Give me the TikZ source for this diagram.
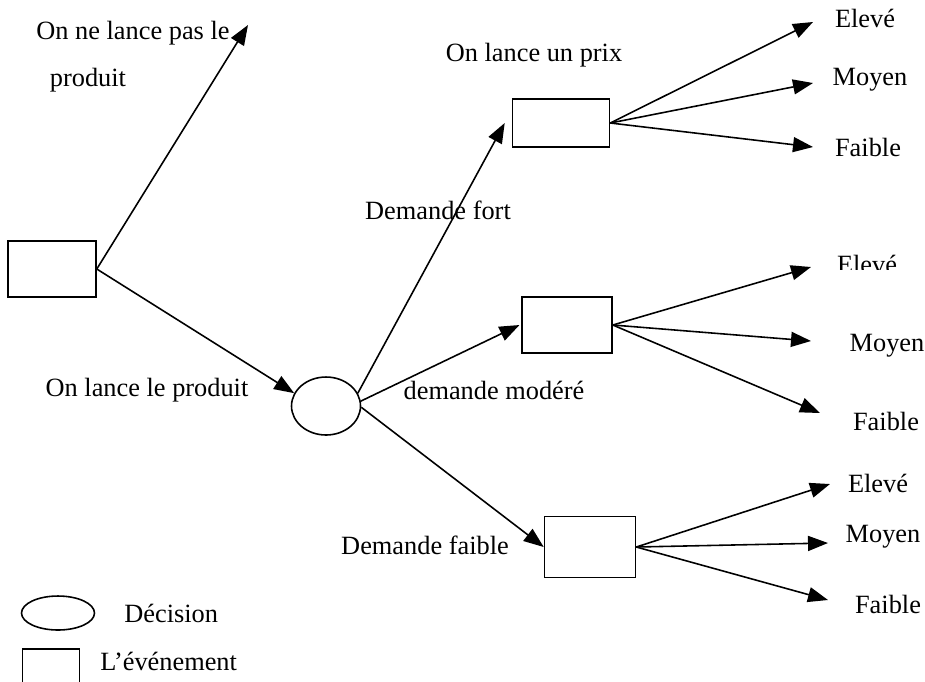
\documentclass[tikz,border=0pt]{standalone}
\usepackage{fontspec}
\setmainfont{Liberation Serif}
\usetikzlibrary{arrows.meta}
\usetikzlibrary{shapes.geometric}

\begin{document}
\begin{tikzpicture}[x=0.02cm,y=-0.02cm,
    event/.style={draw,rectangle,line width=0.9pt,inner sep=0pt},
    decision/.style={draw,ellipse,line width=0.9pt,inner sep=0pt},
    lbl/.style={inner sep=0pt,font=\fontsize{15}{18}\selectfont},
    >={Triangle[length=0.4cm,width=0.3cm]}]

  \useasboundingbox (0,0) rectangle (925,681);
  \clip (0,0) rectangle (925,681);

  % boxes and the decision node
  \node [event,minimum width=1.76cm,minimum height=1.12cm] (start) at (52,269) {};
  \node [decision,minimum width=1.38cm,minimum height=1.16cm] (launch) at (326,406) {};
  \node [event,minimum width=1.94cm,minimum height=0.96cm] (strong) at (561,123) {};
  \node [event,minimum width=1.8cm,minimum height=1.12cm] (medium) at (567,325) {};
  \node [event,minimum width=1.82cm,minimum height=1.22cm] (weak) at (590,547) {};

  % free ends of the price arrows
  \coordinate (no_launch) at (248,25);
  \coordinate (s_high) at (813,22);
  \coordinate (s_mid) at (813,83);
  \coordinate (s_low) at (813,147);
  \coordinate (m_high) at (811,267);
  \coordinate (m_mid) at (811,341);
  \coordinate (m_low) at (820,413);
  \coordinate (w_high) at (830,484);
  \coordinate (w_mid) at (828,543);
  \coordinate (w_low) at (828,600);

  \path [line width=0.9pt,->]
    (start.east)   edge (no_launch)
    (start.east)   edge (launch.158)
    (launch.22)    edge ([xshift=-4pt]strong.west)
    (launch.8)     edge ([xshift=-1pt]medium.west)
    (launch.-2)    edge (weak.west)
    (strong.east)  edge (s_high)
    (strong.east)  edge (s_mid)
    (strong.east)  edge (s_low)
    (medium.east)  edge (m_high)
    (medium.east)  edge (m_mid)
    (medium.east)  edge (m_low)
    (weak.east)    edge (w_high)
    (weak.east)    edge (w_mid)
    (weak.east)    edge (w_low);

  % labels
  \node [lbl] (t_nolaunch) at (133,33) {On ne lance pas le};
  \node [lbl] (t_product) at (88,80) {produit};
  \node [lbl] (t_launch) at (147,390) {On lance le produit};
  \node [lbl] (t_price) at (534,55) {On lance un prix};
  \node [lbl] (t_strong) at (438,210) {Demande fort};
  \node [lbl] (t_medium) at (494,390) {demande modéré};
  \node [lbl] (t_weak) at (425,545) {Demande faible};

  \node [lbl] (t_shigh) at (865,18) {Elevé};
  \node [lbl] (t_smid) at (870,80) {Moyen};
  \node [lbl] (t_slow) at (868,147) {Faible};
  \begin{scope}
    \clip (800,240) rectangle (925,269);
    \node [lbl] (t_mhigh) at (867,264) {Elevé};
  \end{scope}
  \node [lbl] (t_mmid) at (887,346) {Moyen};
  \node [lbl] (t_mlow) at (886,421) {Faible};
  \node [lbl] (t_whigh) at (878,483) {Elevé};
  \node [lbl] (t_wmid) at (883,537) {Moyen};
  \node [lbl] (t_wlow) at (888,604) {Faible};

  % legend
  \node [decision,minimum width=1.46cm,minimum height=0.68cm] (key_dec) at (58,613) {};
  \node [lbl,anchor=west] (t_dec) at (124,613) {Décision};
  \node [event,minimum width=1.14cm,minimum height=0.8cm] (key_event) at (51,669) {};
  \node [lbl,anchor=west] (t_event) at (100,661) {L’événement};

\end{tikzpicture}
\end{document}
